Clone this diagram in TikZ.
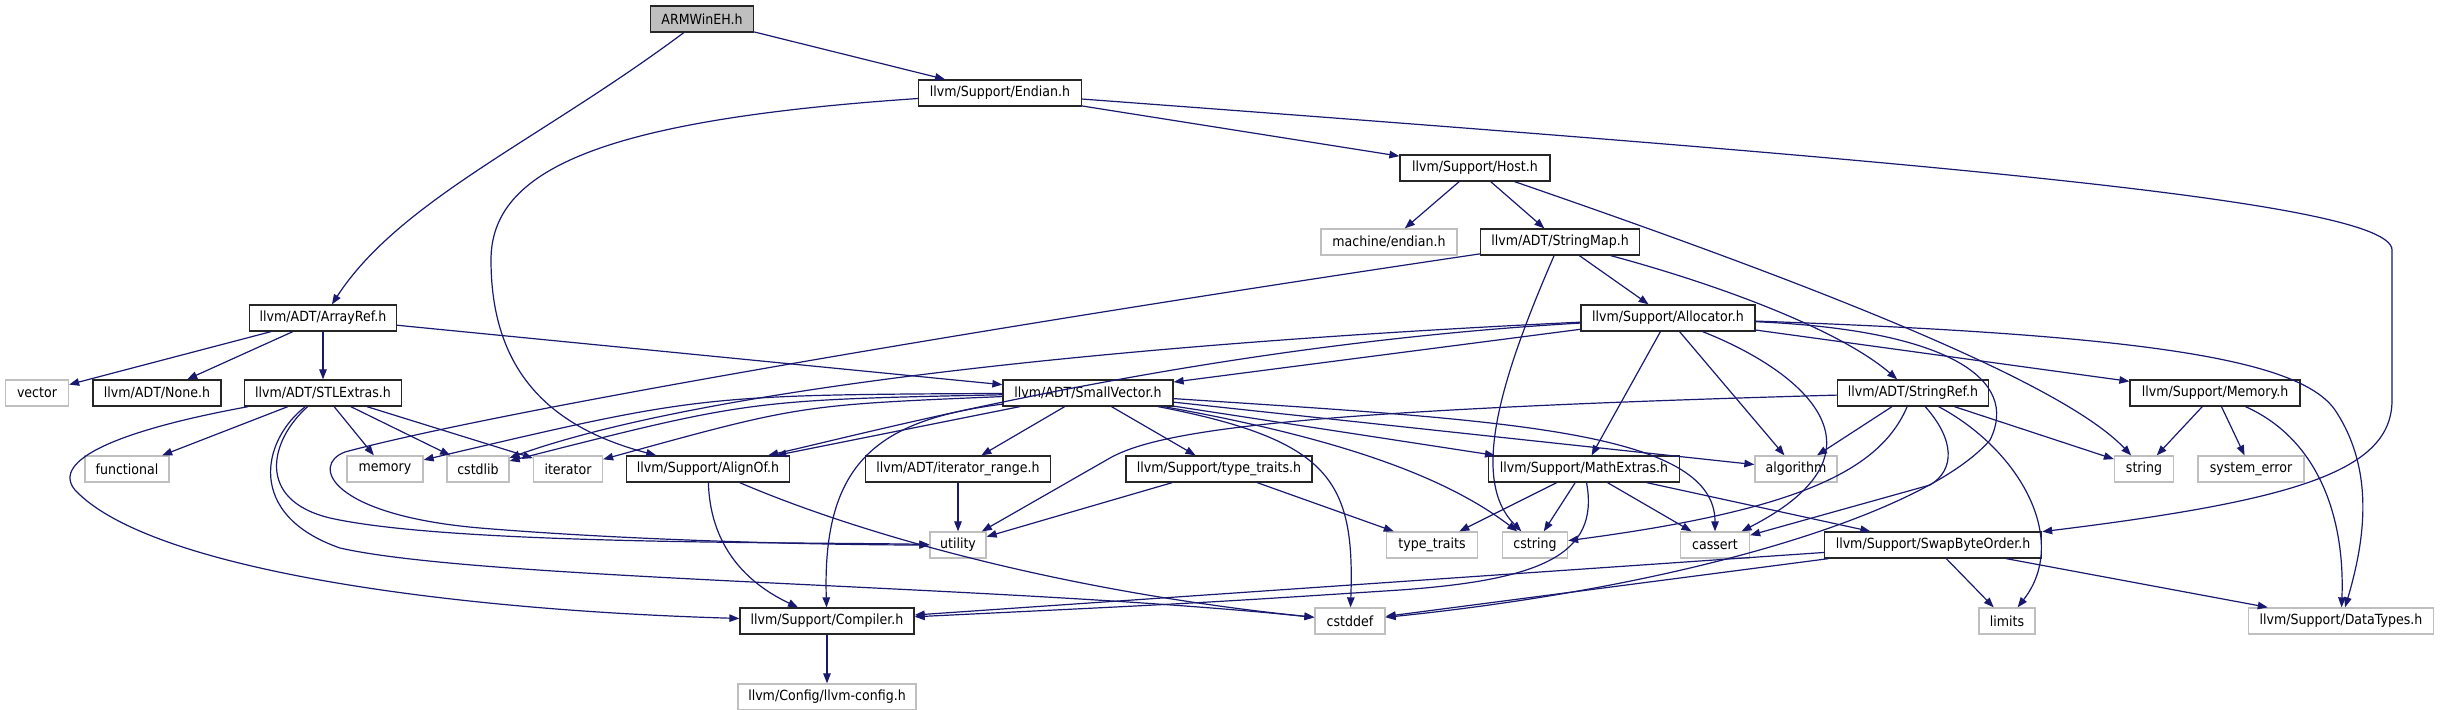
\documentclass[tikz,border=0pt]{standalone}
\usepackage{fontspec}
\setmainfont{DejaVu Sans}[FakeStretch=0.9]
\usepackage{tikz}
\usetikzlibrary{arrows.meta}
\definecolor{edgeblue}{HTML}{191970}
\definecolor{hdrgray}{HTML}{BFBFBF}
\tikzset{
  file/.style={draw=black!85, fill=white, line width=1.3pt, minimum height=26pt, inner sep=0pt, font=\fontsize{14}{16}\selectfont},
  sysfile/.style={file, draw=hdrgray},
  hdrfile/.style={file, fill=hdrgray},
  dep/.style={->, draw=edgeblue, line width=1.2pt}
}

\begin{document}
\begin{tikzpicture}[>={Triangle[length=10pt,width=7.5pt]}, x=1pt, y=-1pt]
\useasboundingbox (0,0) rectangle (2440,709);
% the files, one rank per row
\node[hdrfile, minimum width=103pt] (armwineh) at (702,19) {ARMWinEH.h};
\node[file, minimum width=163pt] (endian) at (1000,93) {llvm/Support/Endian.h};
\node[file, minimum width=150pt] (host) at (1475,168) {llvm/Support/Host.h};
\node[sysfile, minimum width=136pt] (machendian) at (1389,242) {machine/endian.h};
\node[file, minimum width=159pt] (stringmap) at (1560,242) {llvm/ADT/StringMap.h};
\node[file, minimum width=147pt] (arrayref) at (323,318) {llvm/ADT/ArrayRef.h};
\node[file, minimum width=174pt] (allocator) at (1668,318) {llvm/Support/Allocator.h};
\node[sysfile, minimum width=63pt] (vector) at (37,393) {vector};
\node[file, minimum width=128pt] (none) at (157,393) {llvm/ADT/None.h};
\node[file, minimum width=157pt] (stlextras) at (323,393) {llvm/ADT/STLExtras.h};
\node[file, minimum width=170pt] (smallvector) at (1088,393) {llvm/ADT/SmallVector.h};
\node[file, minimum width=151pt] (stringref) at (1913,393) {llvm/ADT/StringRef.h};
\node[file, minimum width=170pt] (memoryh) at (2215,393) {llvm/Support/Memory.h};
\node[sysfile, minimum width=84pt] (functional) at (127,469) {functional};
\node[sysfile, minimum width=76pt] (memory) at (385,469) {memory};
\node[sysfile, minimum width=62pt] (cstdlib) at (478,469) {cstdlib};
\node[sysfile, minimum width=69pt] (iterator) at (568,469) {iterator};
\node[file, minimum width=163pt] (alignof) at (708,469) {llvm/Support/AlignOf.h};
\node[file, minimum width=185pt] (iterrange) at (958,469) {llvm/ADT/iterator\_range.h};
\node[file, minimum width=186pt] (typetraitsh) at (1219,469) {llvm/Support/type\_traits.h};
\node[file, minimum width=191pt] (mathextras) at (1584,469) {llvm/Support/MathExtras.h};
\node[sysfile, minimum width=82pt] (algorithm) at (1796,469) {algorithm};
\node[sysfile, minimum width=59pt] (string) at (2144,469) {string};
\node[sysfile, minimum width=106pt] (syserror) at (2251,469) {system\_error};
\node[sysfile, minimum width=56pt] (utility) at (958,545) {utility};
\node[sysfile, minimum width=91pt] (typetraits) at (1432,545) {type\_traits};
\node[sysfile, minimum width=65pt] (cstring) at (1535,545) {cstring};
\node[sysfile, minimum width=69pt] (cassert) at (1715,545) {cassert};
\node[file, minimum width=217pt] (swapbyteorder) at (1933,545) {llvm/Support/SwapByteOrder.h};
\node[file, minimum width=174pt] (compiler) at (827,621) {llvm/Support/Compiler.h};
\node[sysfile, minimum width=70pt] (cstddef) at (1350,621) {cstddef};
\node[sysfile, minimum width=56pt] (limits) at (2007,621) {limits};
\node[sysfile, minimum width=185pt] (datatypes) at (2341,621) {llvm/Support/DataTypes.h};
\node[sysfile, minimum width=178pt] (llvmconfig) at (827,697) {llvm/Config/llvm-config.h};
% ARMWinEH.h, Endian.h, Host.h
\draw[dep] (armwineh) .. controls (540,140) and (400,200) .. (arrayref);
\draw[dep] (armwineh) -- (endian);
\draw[dep] (endian) -- (host);
\draw[dep] (endian) .. controls (600,120) and (491,170) .. (491,260) .. controls (491,380) and (560,430) .. (alignof);
\draw[dep] (endian) .. controls (1900,160) and (2392,200) .. (2392,250) -- (2392,400) .. controls (2392,470) and (2300,500) .. (swapbyteorder);
\draw[dep] (host) -- (machendian);
\draw[dep] (host) -- (stringmap);
\draw[dep] (host) .. controls (1800,280) and (2060,380) .. (string);
% StringMap.h
\draw[dep] (stringmap) -- (allocator);
\draw[dep] (stringmap) .. controls (1720,285) and (1840,330) .. (stringref);
\draw[dep] (stringmap) .. controls (1500,380) and (1470,480) .. (cstring);
\draw[dep] (stringmap) .. controls (1000,325) and (500,410) .. (345,452) .. controls (310,465) and (330,515) .. (480,528) .. controls (650,542) and (850,545) .. (utility);
% ArrayRef.h and STLExtras.h
\draw[dep] (arrayref) -- (vector);
\draw[dep] (arrayref) -- (none);
\draw[dep] (arrayref) -- (stlextras);
\draw[dep] (arrayref) -- (smallvector);
\draw[dep] (stlextras) -- (functional);
\draw[dep] (stlextras) -- (memory);
\draw[dep] (stlextras) -- (cstdlib);
\draw[dep] (stlextras) -- (iterator);
\draw[dep] (stlextras) .. controls (120,430) and (50,460) .. (75,490) .. controls (150,570) and (450,610) .. (compiler);
\draw[dep] (stlextras) .. controls (270,440) and (255,500) .. (330,518) .. controls (450,545) and (800,542) .. (utility);
\draw[dep] (stlextras) .. controls (262,440) and (245,515) .. (340,548) .. controls (480,580) and (1000,585) .. (cstddef);
% SmallVector.h
\draw[dep] (smallvector) .. controls (700,395) .. (memory);
\draw[dep] (smallvector) .. controls (750,400) .. (cstdlib);
\draw[dep] (smallvector) .. controls (800,405) .. (iterator);
\draw[dep] (smallvector) -- (alignof);
\draw[dep] (smallvector) .. controls (880,420) and (822,460) .. (compiler);
\draw[dep] (smallvector) -- (iterrange);
\draw[dep] (smallvector) -- (typetraitsh);
\draw[dep] (smallvector) -- (algorithm);
\draw[dep] (smallvector) .. controls (1500,420) and (1715,430) .. (cassert);
\draw[dep] (smallvector) -- (mathextras);
\draw[dep] (smallvector) .. controls (1350,440) and (1450,480) .. (cstring);
\draw[dep] (smallvector) .. controls (1330,440) and (1355,480) .. (cstddef);
% Allocator.h
\draw[dep] (allocator) -- (smallvector);
\draw[dep] (allocator) .. controls (1200,345) and (880,430) .. (alignof);
\draw[dep] (allocator) .. controls (1100,345) and (700,390) .. (cstdlib);
\draw[dep] (allocator) -- (mathextras);
\draw[dep] (allocator) -- (algorithm);
\draw[dep] (allocator) .. controls (1800,370) and (1900,450) .. (cassert);
\draw[dep] (allocator) -- (memoryh);
\draw[dep] (allocator) .. controls (2150,335) and (2300,360) .. (2335,410) .. controls (2375,470) and (2365,540) .. (datatypes);
\draw[dep] (allocator) .. controls (1950,330) and (2020,380) .. (1990,440) .. controls (1930,510) and (1700,585) .. (cstddef);
% MathExtras.h, SwapByteOrder.h, AlignOf.h
\draw[dep] (mathextras) -- (typetraits);
\draw[dep] (mathextras) -- (cstring);
\draw[dep] (mathextras) -- (cassert);
\draw[dep] (mathextras) -- (swapbyteorder);
\draw[dep] (mathextras) .. controls (1600,555) and (1540,580) .. (1400,590) .. controls (1200,603) .. (compiler);
\draw[dep] (swapbyteorder) -- (compiler);
\draw[dep] (swapbyteorder) -- (cstddef);
\draw[dep] (swapbyteorder) -- (limits);
\draw[dep] (swapbyteorder) -- (datatypes);
\draw[dep] (alignof) .. controls (710,540) and (740,580) .. (compiler);
\draw[dep] (alignof) .. controls (850,530) and (1050,590) .. (cstddef);
% StringRef.h, Memory.h and the rest
\draw[dep] (stringref) -- (algorithm);
\draw[dep] (stringref) -- (string);
\draw[dep] (stringref) .. controls (1955,440) and (1955,470) .. (1930,485) -- (cassert);
\draw[dep] (stringref) .. controls (1880,470) and (1800,510) .. (cstring);
\draw[dep] (stringref) .. controls (2020,450) and (2070,540) .. (limits);
\draw[dep] (stringref) .. controls (1300,410) and (1160,430) .. (1110,458) -- (utility);
\draw[dep] (memoryh) -- (string);
\draw[dep] (memoryh) -- (syserror);
\draw[dep] (memoryh) .. controls (2320,440) and (2345,520) .. (datatypes);
\draw[dep] (typetraitsh) -- (utility);
\draw[dep] (typetraitsh) -- (typetraits);
\draw[dep] (iterrange) -- (utility);
\draw[dep] (compiler) -- (llvmconfig);
\end{tikzpicture}
\end{document}
